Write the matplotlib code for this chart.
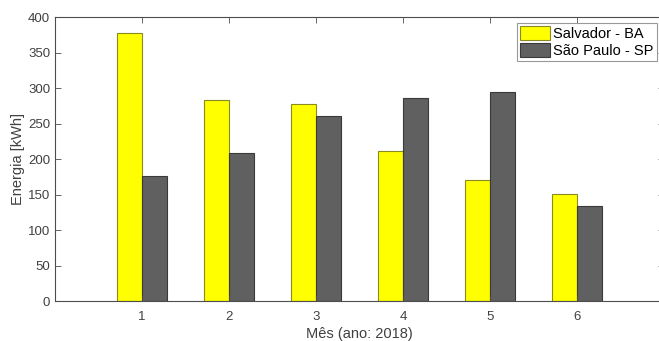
import numpy as np
import matplotlib
matplotlib.use("Agg")
from matplotlib import pyplot as plt

plt.rcParams['font.family'] = ['Liberation Sans', 'DejaVu Sans']

meses = [1, 2, 3, 4, 5, 6]
salvador = [378, 283, 277, 212, 171, 151]
sao_paulo = [176, 208, 260, 286, 294, 134]
yticks = [0, 50, 100, 150, 200, 250, 300, 350, 400]

cor_eixo = '#4d4d4d'
cor_texto = '#404040'

fig = plt.figure(figsize=(6.59, 3.41), dpi=100)
ax = fig.add_axes([0.0835, 0.1173, 0.924, 0.8327])

x = np.array(meses)
w = 0.29
ax.bar(x - w / 2, salvador, w, color='#ffff00', edgecolor='#8a8a20',
       linewidth=0.8, label='Salvador - BA')
ax.bar(x + w / 2, sao_paulo, w, color='#606060', edgecolor='#3a3a3a',
       linewidth=0.8, label='São Paulo - SP')

ax.set_xlim(0, 7)
ax.set_ylim(0, 400)
ax.set_xticks(meses)
ax.set_yticks(yticks)

for s in ax.spines.values():
    s.set_color(cor_eixo)
    s.set_linewidth(0.8)

ax.tick_params(axis='both', direction='in', length=4, width=0.6,
               colors=cor_eixo, labelcolor=cor_texto, labelsize=9.5,
               top=True, right=True)
ax.tick_params(axis='x', pad=7)

ax.set_xlabel('Mês (ano: 2018)', fontsize=10.5, color=cor_texto, labelpad=3)
ax.set_ylabel('Energia [kWh]', fontsize=10.5, color=cor_texto, labelpad=2)

leg = ax.legend(loc='upper right', bbox_to_anchor=(0.988, 0.98), fontsize=10.5,
                fancybox=False, framealpha=1, edgecolor='#999999',
                handlelength=2.1, handleheight=1.1, handletextpad=0.2,
                borderpad=0.2, labelspacing=0.15, borderaxespad=0)
leg.get_frame().set_linewidth(0.8)

fig.savefig('out.png', dpi=100)
